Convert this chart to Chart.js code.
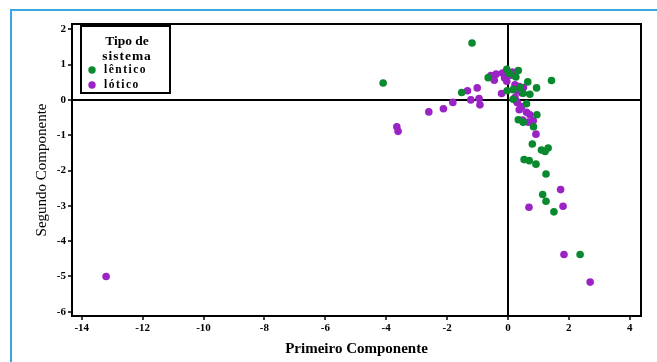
<!DOCTYPE html>
<html>
<head>
<meta charset="utf-8">
<script src="https://cdn.jsdelivr.net/npm/chart.js@4.4.1/dist/chart.umd.min.js"></script>
<style>
  html, body { margin: 0; padding: 0; background: #fff; }
  #wrap { position: relative; width: 657px; height: 362px; overflow: hidden; }
  #frame { position: absolute; left: 10px; top: 9px; width: 700px; height: 400px;
           border-left: 2px solid #3aa8de; border-top: 2px solid #3aa8de; }
  canvas { position: absolute; left: 0; top: 0; }
</style>
</head>
<body>
<div id="wrap">
  <div id="frame"></div>
  <canvas id="c" width="657" height="362"></canvas>
</div>
<script>
// ---- data ----
const seriesNames = ['lêntico', 'lótico'];
const legendTitle = ['Tipo de', 'sistema'];
const xTitle = 'Primeiro Componente';
const yTitle = 'Segundo Componente';
const xTicks = [-14, -12, -10, -8, -6, -4, -2, 0, 2, 4];
const yTicks = [-6, -5, -4, -3, -2, -1, 0, 1, 2];

const lenticoX = [-4.10,-1.18,-1.52,-0.65,-0.04,0.34,0.26,0.05,0.65,1.43,0.94,-0.03,0.17,0.40,0.50,0.72,0.17,0.61,0.95,0.34,0.50,0.84,0.80,1.10,1.32,1.22,0.53,0.70,0.92,1.25,1.14,1.25,1.51,2.37];
const lenticoY = [0.48,1.61,0.21,0.63,0.87,0.83,0.65,0.75,0.51,0.55,0.34,0.26,0.29,0.35,0.19,0.16,0.02,-0.11,-0.42,-0.56,-0.63,-0.76,-1.25,-1.42,-1.36,-1.46,-1.69,-1.72,-1.82,-2.10,-2.68,-2.87,-3.17,-4.38];

const loticoX = [-13.2,-3.65,-3.61,-2.60,-2.12,-1.81,-1.33,-1.01,-1.22,-0.95,-0.92,-0.21,-0.56,-0.39,-0.45,-0.18,-0.11,0.03,0.15,-0.04,0.10,-0.05,0.23,0.37,0.51,0.30,0.44,0.23,0.28,0.31,0.45,0.37,0.61,0.72,0.48,0.67,0.83,0.92,1.73,0.69,1.81,1.84,2.70];
const loticoY = [-5.0,-0.76,-0.89,-0.34,-0.25,-0.07,0.26,0.34,0.0,0.04,-0.14,0.18,0.69,0.73,0.56,0.76,0.62,0.76,0.79,0.53,0.70,0.68,0.43,0.38,0.35,0.26,0.20,0.07,-0.04,-0.08,-0.19,-0.28,-0.35,-0.42,-0.57,-0.63,-0.59,-0.97,-2.54,-3.04,-3.01,-4.38,-5.16];

const colors = ['#0a8a2e', '#9b22c4'];
const SERIF = '"Liberation Serif", "Times New Roman", serif';

const toPts = (xs, ys) => xs.map((x, i) => ({ x: x, y: ys[i] }));

const framePlugin = {
  id: 'frame',
  afterDatasetsDraw(chart) {
    const { ctx, chartArea: a } = chart;
    ctx.save();
    ctx.strokeStyle = '#000';
    ctx.lineWidth = 2;
    ctx.strokeRect(a.left, a.top, a.right - a.left, a.bottom - a.top);
    ctx.restore();
  }
};

const legendPlugin = {
  id: 'boxLegend',
  afterDraw(chart) {
    const ctx = chart.ctx;
    const L = 81, T = 26, W = 89, H = 67;
    ctx.save();
    ctx.fillStyle = '#fff';
    ctx.fillRect(L, T, W, H);
    ctx.strokeStyle = '#000';
    ctx.lineWidth = 2;
    ctx.strokeRect(L, T, W, H);
    ctx.fillStyle = '#000';
    ctx.textBaseline = 'middle';
    ctx.textAlign = 'center';
    ctx.font = 'bold 13.5px ' + SERIF;
    ctx.fillText(legendTitle[0], 127, 42);
    try { ctx.letterSpacing = '1px'; } catch (e) {}
    ctx.fillText(legendTitle[1], 127, 57);
    ctx.textAlign = 'left';
    ctx.font = 'bold 11.5px ' + SERIF;
    try { ctx.letterSpacing = '1.5px'; } catch (e) {}
    chart.data.datasets.forEach((ds, i) => {
      const y = 70 + i * 15;
      ctx.beginPath();
      ctx.fillStyle = ds.backgroundColor;
      ctx.arc(92, y, 3.7, 0, Math.PI * 2);
      ctx.fill();
      ctx.fillStyle = '#000';
      ctx.fillText(ds.label, 104, y + 0.5);
    });
    ctx.restore();
  }
};

new Chart(document.getElementById('c'), {
  type: 'scatter',
  data: {
    datasets: [
      { label: seriesNames[0], data: toPts(lenticoX, lenticoY), backgroundColor: colors[0],
        borderWidth: 0, pointRadius: 3.8, pointHoverRadius: 3.8 },
      { label: seriesNames[1], data: toPts(loticoX, loticoY), backgroundColor: colors[1],
        borderWidth: 0, pointRadius: 3.8, pointHoverRadius: 3.8 }
    ]
  },
  options: {
    responsive: false,
    animation: false,
    events: [],
    layout: { padding: { left: 0, top: 24, right: 16, bottom: 0 } },
    plugins: { legend: { display: false }, tooltip: { enabled: false } },
    scales: {
      x: {
        type: 'linear', min: -14.32, max: 4.37,
        afterBuildTicks: s => { s.ticks = xTicks.map(v => ({ value: v })); },
        afterFit: s => { s.height = 46; },
        border: { display: true, color: '#000', width: 2 },
        grid: {
          drawOnChartArea: true, drawTicks: true, tickLength: 4,
          color: c => (c.tick && c.tick.value === 0) ? '#000' : 'rgba(0,0,0,0)',
          lineWidth: 2, tickColor: '#000', tickWidth: 1.5
        },
        ticks: { color: '#000', padding: 2, font: { family: SERIF, size: 11, weight: 'bold' },
                 maxRotation: 0, autoSkip: false, callback: v => String(v) },
        title: { display: true, text: xTitle, color: '#000',
                 font: { family: SERIF, size: 15, weight: 'bold' }, padding: { top: 0, bottom: 4 } }
      },
      y: {
        type: 'linear', min: -6.12, max: 2.15,
        afterBuildTicks: s => { s.ticks = yTicks.map(v => ({ value: v })); },
        afterFit: s => { s.width = 72; },
        border: { display: true, color: '#000', width: 2 },
        grid: {
          drawOnChartArea: true, drawTicks: true, tickLength: 4,
          color: c => (c.tick && c.tick.value === 0) ? '#000' : 'rgba(0,0,0,0)',
          lineWidth: 2, tickColor: '#000', tickWidth: 1.5
        },
        ticks: { color: '#000', padding: 2, font: { family: SERIF, size: 11, weight: 'bold' },
                 autoSkip: false, callback: v => String(v) },
        title: { display: true, text: yTitle, color: '#000',
                 font: { family: SERIF, size: 15, weight: 'normal' }, padding: { top: 33, bottom: 0 } }
      }
    }
  },
  plugins: [framePlugin, legendPlugin]
});
</script>
</body>
</html>
